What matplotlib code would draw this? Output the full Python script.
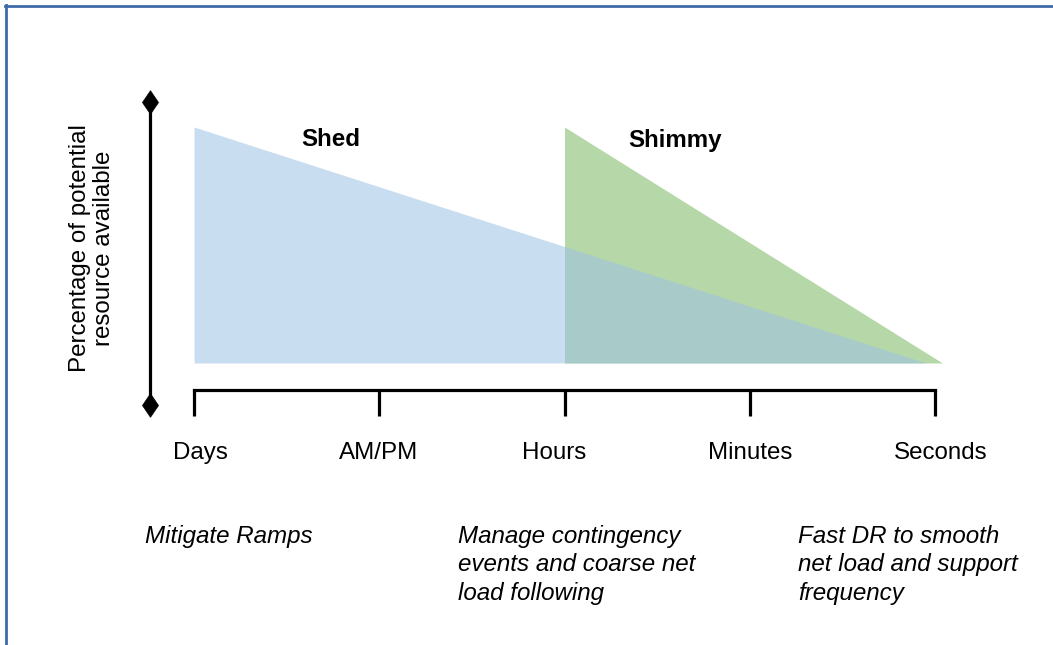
import matplotlib
matplotlib.use("Agg")
import matplotlib.pyplot as plt
from matplotlib.lines import Line2D
from matplotlib.path import Path

# ---- data ----
categories = ["Days", "AM/PM", "Hours", "Minutes", "Seconds"]
shed_x = [0.0, 3.95]
shed_y = [100.0, 0.0]
shimmy_x = [2.0, 4.04]
shimmy_y = [100.0, 0.0]
series_names = ["Shed", "Shimmy"]
y_label = "Percentage of potential\nresource available"
notes = ["Mitigate Ramps",
         "Manage contingency\nevents and coarse net\nload following",
         "Fast DR to smooth\nnet load and support\nfrequency"]

# ---- layout (pixels) ----
W, H = 1053, 645
X0_PX, X4_PX = 194, 935
Y100_PX, Y0_PX = 127, 363

def xd(px):
    return (px - X0_PX) / (X4_PX - X0_PX) * 4.0

def yd(py):
    return (Y0_PX - py) / (Y0_PX - Y100_PX) * 100.0

plt.rcParams['font.family'] = ['Liberation Sans', 'DejaVu Sans']
FS = 17.4

fig = plt.figure(figsize=(W / 100, H / 100), dpi=100)
ax = fig.add_axes([0, 0, 1, 1])
ax.set_xlim(xd(0), xd(W))
ax.set_ylim(yd(H), yd(0))
ax.axis('off')

# triangles
ax.fill_between(shimmy_x, shimmy_y, 0, color='#b6d7a8', linewidth=0, zorder=1)
ax.fill_between(shed_x, shed_y, 0, color='#9ec2e6', alpha=0.556, linewidth=0, zorder=2)

# series labels
ax.text(xd(331), yd(140), series_names[0], fontsize=FS, fontweight='bold',
        ha='center', va='center')
ax.text(xd(675), yd(140), series_names[1], fontsize=FS, fontweight='bold',
        ha='center', va='center')

# vertical double-arrow axis
lw = 2.3
ax.plot([xd(150), xd(150)], [yd(102), yd(405)], color='black', lw=lw,
        solid_capstyle='butt', zorder=3)
diamond = Path([(0, 1), (0.68, 0), (0, -1), (-0.68, 0), (0, 1)],
               [Path.MOVETO, Path.LINETO, Path.LINETO, Path.LINETO, Path.CLOSEPOLY])
ax.plot([xd(150), xd(150)], [yd(102), yd(405)], linestyle='none', marker=diamond,
        markersize=17, markeredgewidth=0.5, color='black', zorder=4)

# horizontal axis with ticks
ticks = list(range(len(categories)))
ax.plot([ticks[0], ticks[-1]], [yd(390), yd(390)], color='black', lw=lw,
        solid_capstyle='projecting', zorder=3)
for t in ticks:
    ax.plot([t, t], [yd(390), yd(416)], color='black', lw=lw,
            solid_capstyle='butt', zorder=3)

label_offsets_px = [6, -1, -10, 0, 6]
for t, lab, off in zip(ticks, categories, label_offsets_px):
    ax.text(t + xd(X0_PX + off), yd(453), lab, fontsize=FS, ha='center', va='center')

# y label
ax.text(xd(92), yd(248), y_label, fontsize=FS, rotation=90, ha='center',
        va='center', multialignment='center', linespacing=1.12)

# notes
note_x_px = [145, 458, 798]
for nx, txt in zip(note_x_px, notes):
    ax.text(xd(nx), yd(525), txt, fontsize=FS, style='italic', ha='left',
            va='top', linespacing=1.3)

# border
bc = '#3f6ba8'
fig.add_artist(Line2D([5 / W, 1], [1 - 6 / H, 1 - 6 / H], color=bc, lw=2.0,
                      transform=fig.transFigure))
fig.add_artist(Line2D([6 / W, 6 / W], [0, 1 - 5 / H], color=bc, lw=2.0,
                      transform=fig.transFigure))

fig.savefig('out.png', dpi=100)
